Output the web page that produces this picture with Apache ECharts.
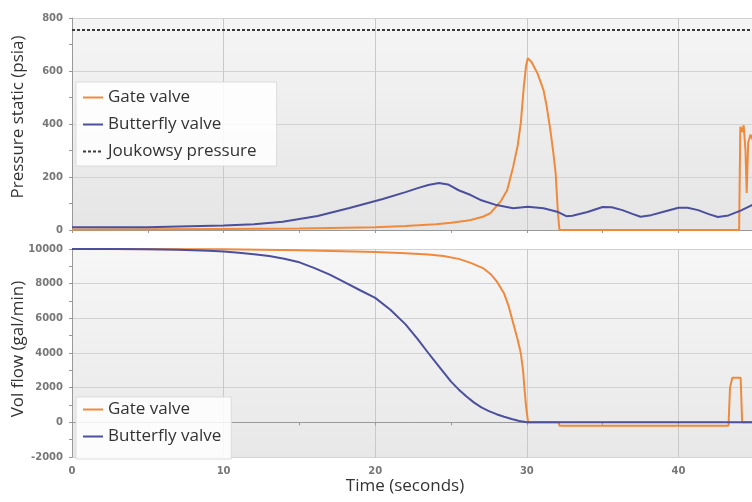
<!DOCTYPE html>
<html>
<head>
<meta charset="utf-8">
<script src="https://cdn.jsdelivr.net/npm/echarts@6/dist/echarts.min.js"></script>
<style>
  html, body { margin: 0; padding: 0; background: #fff; }
  #chart { width: 752px; height: 502px; }
</style>
</head>
<body>
<div id="chart"></div>
<script>
// time (s), value pairs
const gatePressure = [
  [0, 2], [10, 4], [15, 6], [20, 10], [22, 15], [24, 22], [25, 27], [26, 35], [26.3, 38],
  [27.1, 50], [27.6, 64], [28, 90], [28.3, 110], [28.7, 150], [29.1, 239], [29.4, 320],
  [29.6, 403], [29.8, 541], [29.95, 620], [30.06, 648], [30.3, 635], [30.7, 591], [31.1, 528],
  [31.3, 470], [31.55, 377], [31.75, 290], [31.9, 214], [32.05, 64], [32.15, 0],
  [44, 0], [44.08, 390], [44.2, 370], [44.3, 395], [44.42, 300], [44.5, 140], [44.6, 330],
  [44.75, 360], [44.9, 340]
]
const butterflyPressure = [
  [0, 10], [5, 10], [7, 13], [10, 17], [12, 22], [13.9, 31], [16.2, 53], [18.3, 83],
  [20.5, 117], [22, 143], [22.8, 158], [23.5, 170], [24.2, 177], [24.8, 172], [25.5, 150],
  [26.3, 132], [27, 112], [28, 94], [29.1, 82], [30.06, 88], [31.1, 82], [32, 69], [32.6, 52],
  [33, 54], [34, 68], [35, 87], [35.6, 86], [36.3, 75], [37, 60], [37.5, 50], [38.2, 56],
  [39.2, 72], [40, 84], [40.6, 84], [41.3, 75], [42, 60], [42.6, 49], [43.3, 55], [44.1, 73],
  [44.9, 95]
]
const joukowskyPressure = [[0, 755], [44.9, 755]]

const gateFlow = [
  [0, 10000], [10, 9980], [15, 9930], [20, 9830], [22, 9760], [23.5, 9680], [24.5, 9590],
  [25.5, 9430], [26.3, 9200], [27.1, 8900], [27.6, 8560], [28, 8150], [28.5, 7430],
  [28.8, 6700], [29.1, 5710], [29.4, 4750], [29.6, 3990], [29.75, 3000], [29.85, 1880],
  [29.95, 900], [30.06, 150], [30.1, 0], [32.1, 0], [32.15, -190], [43.3, -190], [43.4, 2000],
  [43.55, 2570], [44.1, 2570], [44.2, 0], [44.9, 0]
]
const butterflyFlow = [
  [0, 10000], [3, 9998], [5, 9985], [7, 9955], [9, 9900], [10, 9850], [11, 9790], [12, 9700],
  [13, 9590], [14, 9440], [15, 9230], [16, 8900], [17, 8520], [18, 8080], [19, 7620],
  [20, 7180], [21, 6500], [22, 5650], [22.8, 4800], [23.5, 4000], [24, 3450], [24.5, 2900],
  [25, 2350], [25.5, 1900], [26, 1500], [26.5, 1150], [27, 860], [27.5, 650], [28, 470],
  [28.5, 320], [29, 190], [29.5, 80], [30, 0], [44.9, 0]
]

const xTicks = { min: 0, max: 44.85, interval: 10 }
const pressureTicks = { min: 0, max: 800, interval: 200 }
const flowTicks = { min: -2000, max: 10000, interval: 2000 }

const ORANGE = '#ef8a3d'
const BLUE = '#4c4f9c'
const GREY = '#3a3a3a'
const TITLE_FONT = 'Open Sans'

const chart = echarts.init(document.getElementById('chart'))

const plotBg = (top, bottom) => new echarts.graphic.LinearGradient(0, 0, 0, 1, [
  { offset: 0, color: top },
  { offset: 1, color: bottom }
])

const tickLabel = {
  color: '#777', fontSize: 10, fontWeight: 'bold',
  fontFamily: 'DejaVu Sans', margin: 9,
  formatter: v => String(v)
}

const xAxisBase = {
  type: 'value',
  ...xTicks,
  axisLine: { show: true, lineStyle: { color: '#999' } },
  axisTick: { show: true, length: 3, lineStyle: { color: '#999' } },
  minorTick: { show: true, splitNumber: 2, length: 3, lineStyle: { color: '#999' } },
  splitLine: { show: true, lineStyle: { color: '#c9c9c9' } }
}

const yAxisBase = {
  type: 'value',
  axisLine: { show: true, lineStyle: { color: '#999' } },
  axisTick: { show: true, length: 3, lineStyle: { color: '#999' } },
  minorTick: { show: true, splitNumber: 2, length: 3, lineStyle: { color: '#999' } },
  splitLine: { show: true, lineStyle: { color: '#d2d2d2' } },
  axisLabel: tickLabel,
  nameLocation: 'middle',
  nameGap: 45,
  nameMoveOverlap: false,
  nameTextStyle: { fontFamily: TITLE_FONT, fontSize: 17, color: '#333' }
}

const legendBase = {
  orient: 'vertical',
  left: 76,
  itemWidth: 20,
  itemHeight: 14,
  itemGap: 10,
  itemStyle: { opacity: 0 },
  backgroundColor: 'rgba(255,255,255,0.85)',
  borderColor: '#dcdcdc',
  borderWidth: 1,
  textStyle: { fontFamily: TITLE_FONT, fontSize: 17, color: '#333' }
}

const line = (name, data, color, idx, extra) => ({
  name,
  type: 'line',
  xAxisIndex: idx,
  yAxisIndex: idx,
  data,
  symbol: 'none',
  lineStyle: { color, width: 2, ...(extra || {}) },
  itemStyle: { color }
})

chart.setOption({
  animation: false,
  grid: [
    { left: 72, right: 0, top: 18, height: 212, show: true, borderWidth: 0,
      outerBoundsMode: 'none', containLabel: false,
      backgroundColor: plotBg('#f5f5f5', '#e5e5e5') },
    { left: 72, right: 0, top: 249, height: 208, show: true, borderWidth: 0,
      outerBoundsMode: 'none', containLabel: false,
      backgroundColor: plotBg('#f6f6f6', '#e8e8e8') }
  ],
  xAxis: [
    { ...xAxisBase, gridIndex: 0, axisLabel: { show: false } },
    { ...xAxisBase, gridIndex: 1,
      axisLabel: { ...tickLabel, showMaxLabel: false },
      name: 'Time (seconds)', nameLocation: 'middle', nameGap: 21, nameMoveOverlap: false,
      nameTextStyle: { fontFamily: TITLE_FONT, fontSize: 17, color: '#333', padding: [0, 14, 0, 0] } }
  ],
  yAxis: [
    { ...yAxisBase, gridIndex: 0, ...pressureTicks, name: 'Pressure static (psia)',
      nameTextStyle: { ...yAxisBase.nameTextStyle, padding: [0, 0, 0, 14] } },
    { ...yAxisBase, gridIndex: 1, ...flowTicks, name: 'Vol flow (gal/min)',
      nameTextStyle: { ...yAxisBase.nameTextStyle, padding: [0, 0, 0, 8] } }
  ],
  legend: [
    { ...legendBase, top: 82, padding: [7, 20, 6, 6],
      data: ['Gate valve', 'Butterfly valve', 'Joukowsy pressure'] },
    { ...legendBase, top: 397, padding: [4, 10, 14, 6],
      data: ['Gate valve', 'Butterfly valve'] }
  ],
  series: [
    line('Gate valve', gatePressure, ORANGE, 0),
    line('Butterfly valve', butterflyPressure, BLUE, 0),
    line('Joukowsy pressure', joukowskyPressure, GREY, 0, { type: [3, 2] }),
    line('Gate valve', gateFlow, ORANGE, 1),
    line('Butterfly valve', butterflyFlow, BLUE, 1)
  ]
})

window.addEventListener('resize', () => chart.resize())
</script>
</body>
</html>
